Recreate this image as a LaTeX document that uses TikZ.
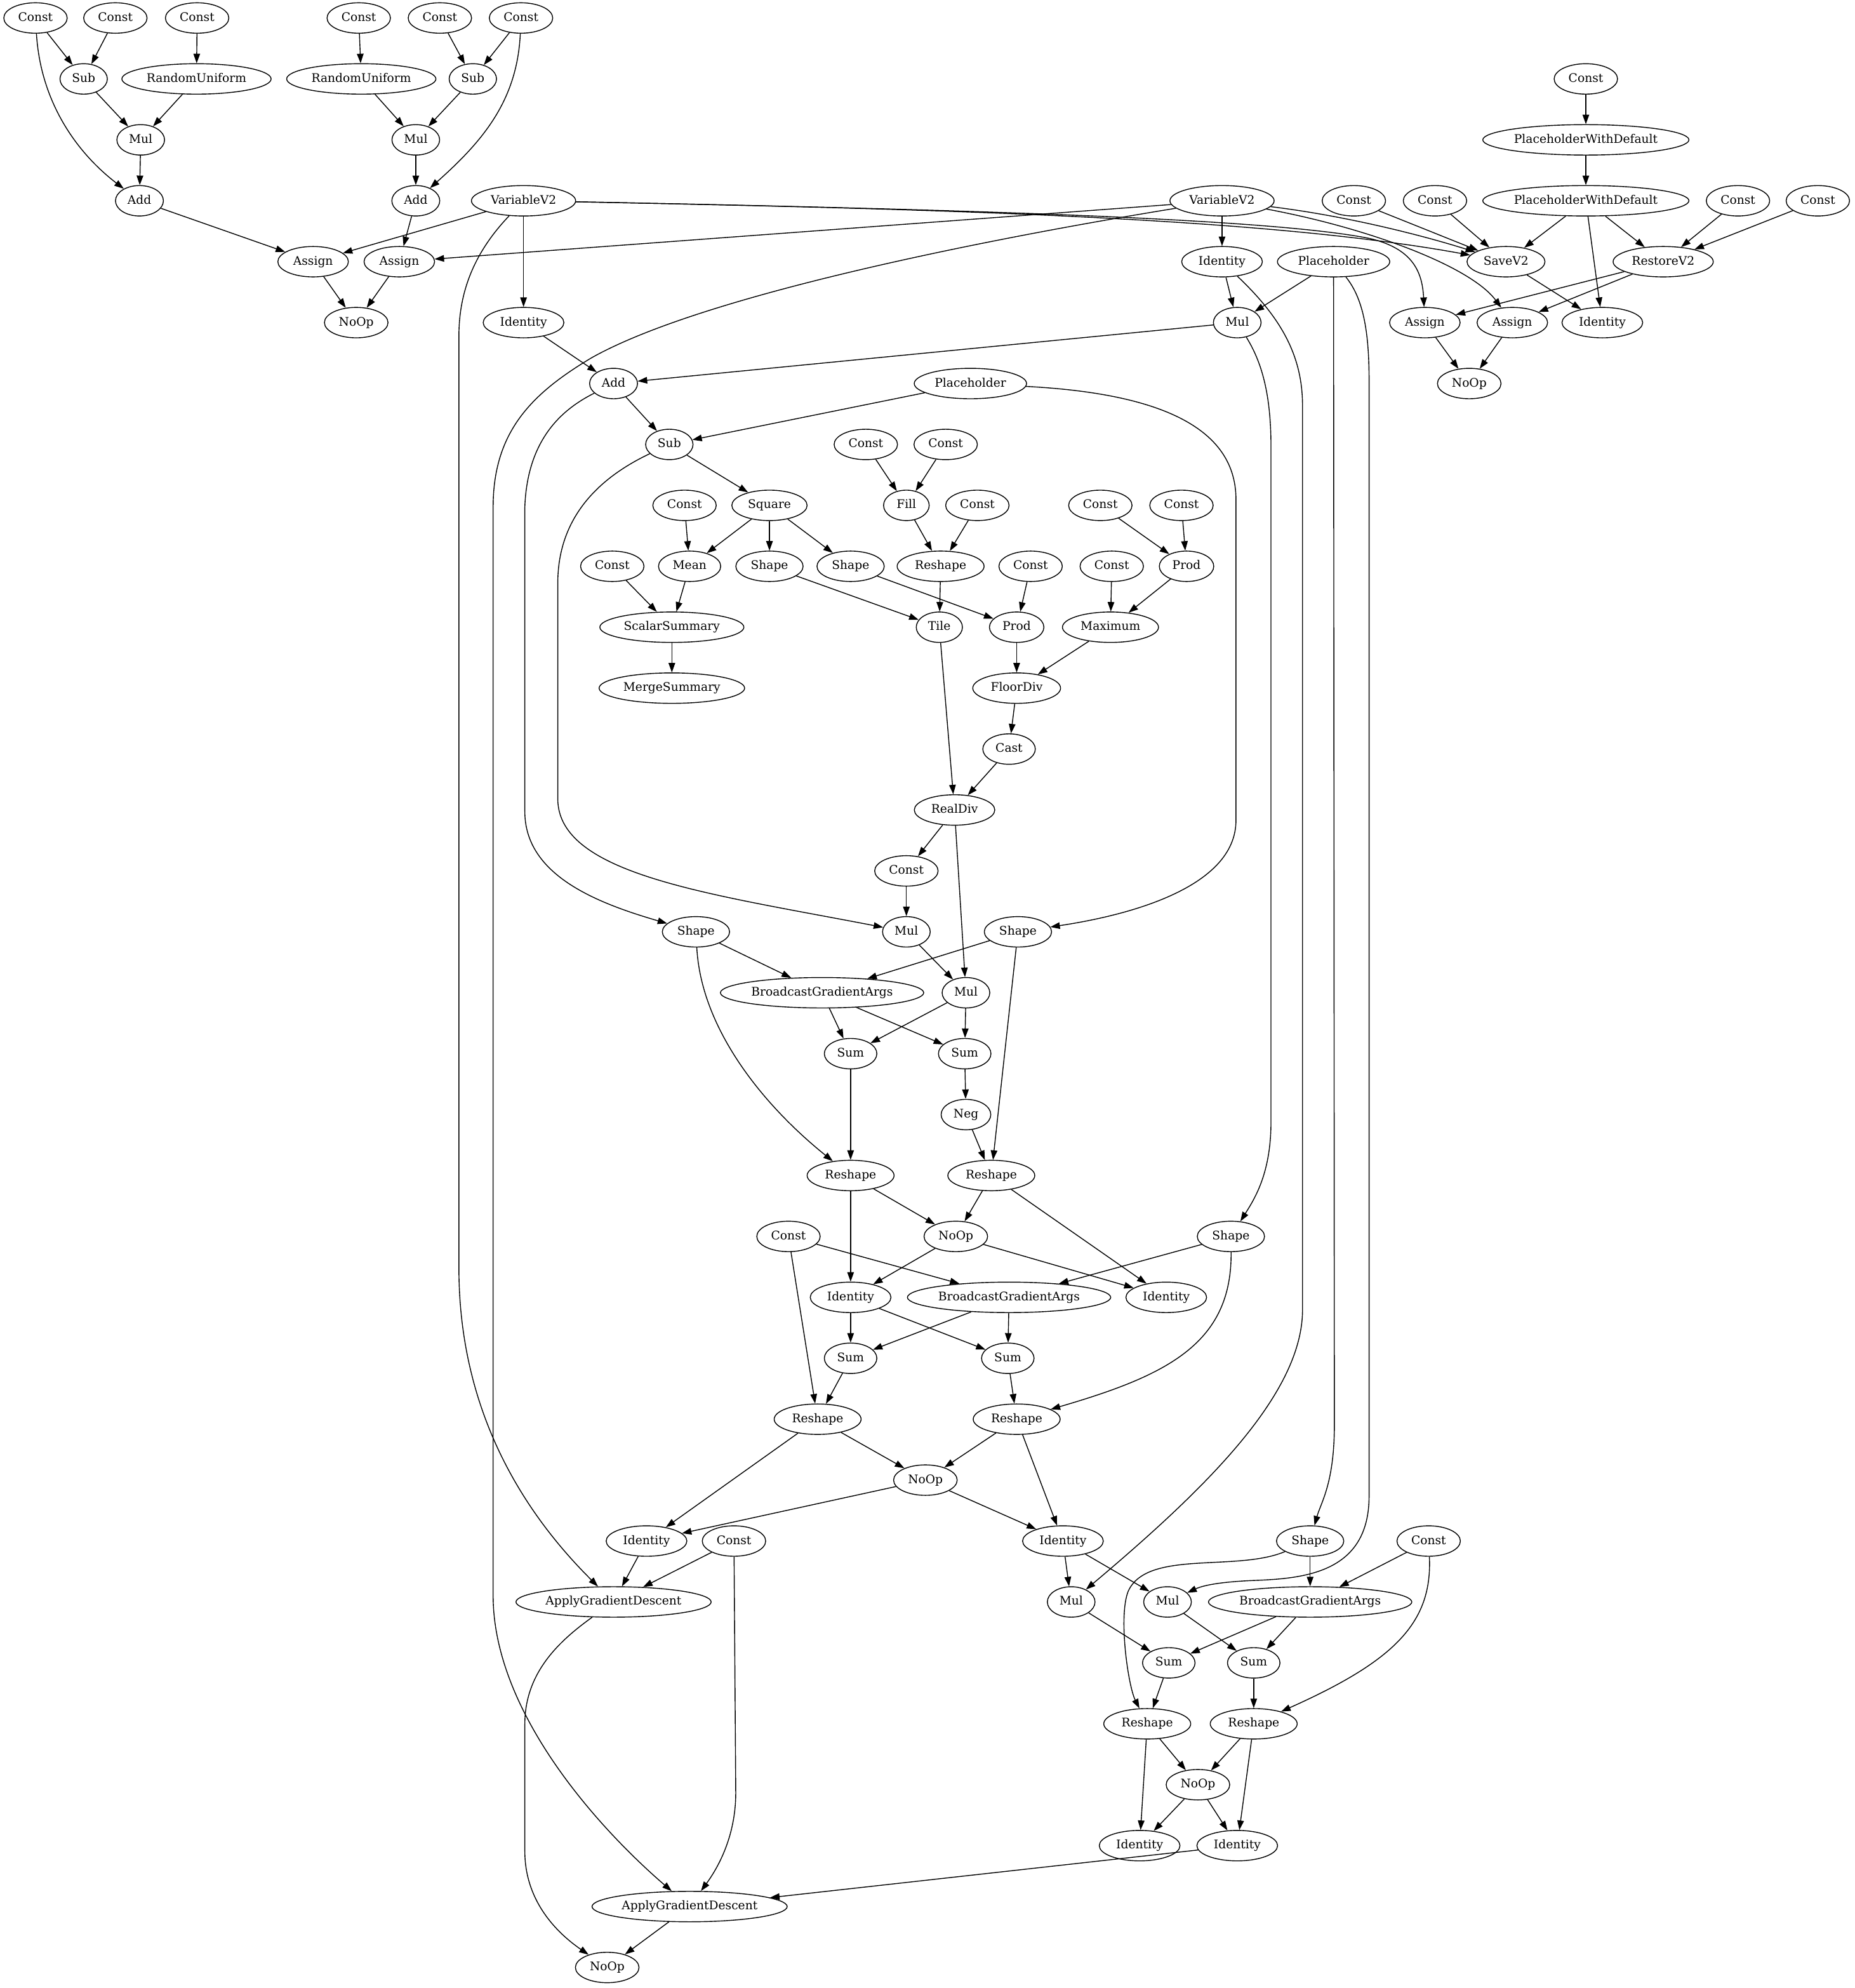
\documentclass[tikz,border=0pt]{standalone}
\usepackage{fontspec}
\setmainfont{DejaVu Serif}
\usetikzlibrary{shapes.geometric,arrows.meta}
\begin{document}
\begin{tikzpicture}[x=1pt,y=-1pt,
  nd/.style={draw, ellipse, line width=0.7pt, inner xsep=4pt, inner ysep=1pt,
    minimum width=36pt, minimum height=24pt, text height=7pt, text depth=2pt,
    font=\fontsize{9.35}{11}\selectfont},
  med/.style={nd, inner xsep=3.2pt},
  lng/.style={nd, inner xsep=2.3pt},
  xl/.style={nd, inner xsep=0.85pt},
  ed/.style={-{Triangle[length=7.5pt,width=5.2pt]}, line width=0.7pt}]
\useasboundingbox (0,0) rectangle (1463,1568);

% ---- top left: initialisers
\node[nd] (c1) at (28,14.2) {Const};
\node[nd] (c2) at (91,14.2) {Const};
\node[nd] (c3) at (155.5,14.2) {Const};
\node[nd] (sub1) at (66,62.25) {Sub};
\node[lng] (ru1) at (155,62.25) {RandomUniform};
\node[nd] (mul1) at (111,110.3) {Mul};
\node[nd] (add1) at (110,158.35) {Add};
\node[nd] (c4) at (283,14.2) {Const};
\node[nd] (c5) at (347,14.2) {Const};
\node[nd] (c6) at (411,14.2) {Const};
\node[lng] (ru2) at (285,62.25) {RandomUniform};
\node[nd] (sub2) at (373,62.25) {Sub};
\node[nd] (mul2) at (328,110.3) {Mul};
\node[nd] (add2) at (328,158.35) {Add};
\node[nd] (asg1) at (247,206.4) {Assign};
\node[nd] (asg2) at (315,206.4) {Assign};
\node[nd] (noop1) at (281,254.45) {NoOp};

% ---- variables and model
\node[med] (var1) at (413,158.35) {VariableV2};
\node[med] (var2) at (964,158.35) {VariableV2};
\node[nd] (id1) at (413,254.45) {Identity};
\node[nd] (id2) at (964,206.4) {Identity};
\node[med] (ph1) at (1052,206.4) {Placeholder};
\node[nd] (mulA) at (976,254.45) {Mul};
\node[nd] (addA) at (484,302.5) {Add};
\node[med] (ph2) at (765.5,302.5) {Placeholder};
\node[nd] (subA) at (528,350.55) {Sub};

% ---- save / restore
\node[nd] (cs) at (1251,62.25) {Const};
\node[xl] (pwd1) at (1251,110.3) {PlaceholderWithDefault};
\node[xl] (pwd2) at (1251,158.35) {PlaceholderWithDefault};
\node[nd] (cs1) at (1068,158.35) {Const};
\node[nd] (cs2) at (1132,158.35) {Const};
\node[nd] (cs3) at (1371,158.35) {Const};
\node[nd] (cs4) at (1434,158.35) {Const};
\node[nd] (save) at (1188,206.4) {SaveV2};
\node[med] (restore) at (1312,206.4) {RestoreV2};
\node[nd] (asg3) at (1124,254.45) {Assign};
\node[nd] (asg4) at (1193,254.45) {Assign};
\node[nd] (idS) at (1264,254.45) {Identity};
\node[nd] (noop2) at (1159,302.5) {NoOp};

% ---- loss and gradients
\node[nd] (k1) at (683,350.55) {Const};
\node[nd] (k2) at (746,350.55) {Const};
\node[nd] (k3) at (540,398.6) {Const};
\node[nd] (sq) at (607,398.6) {Square};
\node[nd] (fill) at (715,398.6) {Fill};
\node[nd] (k4) at (771,398.6) {Const};
\node[nd] (k5) at (868,398.6) {Const};
\node[nd] (k6) at (932,398.6) {Const};
\node[nd] (k7) at (483,446.65) {Const};
\node[nd] (mean) at (544,446.65) {Mean};
\node[nd] (shp1) at (607,446.65) {Shape};
\node[nd] (shp2) at (671,446.65) {Shape};
\node[nd] (rsh1) at (742,446.65) {Reshape};
\node[nd] (k8) at (813,446.65) {Const};
\node[nd] (k9) at (877,446.65) {Const};
\node[nd] (prod1) at (936,446.65) {Prod};
\node[lng] (ss) at (530,494.7) {ScalarSummary};
\node[nd] (tile) at (741,494.7) {Tile};
\node[nd] (prod2) at (802,494.7) {Prod};
\node[med] (maxi) at (876,494.7) {Maximum};
\node[lng] (ms) at (530,542.75) {MergeSummary};
\node[nd] (fdiv) at (802,542.75) {FloorDiv};
\node[nd] (cast) at (796,590.8) {Cast};
\node[nd] (rdiv) at (753,638.85) {RealDiv};
\node[nd] (k10) at (715,686.9) {Const};
\node[nd] (shp3) at (549,734.95) {Shape};
\node[nd] (mulB) at (715,734.95) {Mul};
\node[nd] (shp4) at (803,734.95) {Shape};
\node[xl] (bga1) at (648.5,783) {BroadcastGradientArgs};
\node[nd] (mulC) at (762,783) {Mul};
\node[nd] (sum1) at (671,831.05) {Sum};
\node[nd] (sum2) at (761,831.05) {Sum};
\node[nd] (neg) at (762,879.1) {Neg};
\node[nd] (rsh2) at (671,927.15) {Reshape};
\node[nd] (rsh3) at (782,927.15) {Reshape};
\node[nd] (k11) at (622,975.2) {Const};
\node[nd] (noop3) at (754,975.2) {NoOp};
\node[nd] (shp5) at (971,975.2) {Shape};
\node[nd] (id3) at (671,1023.25) {Identity};
\node[xl] (bga2) at (796,1023.25) {BroadcastGradientArgs};
\node[nd] (id4) at (920,1023.25) {Identity};
\node[nd] (sum3) at (671,1071.3) {Sum};
\node[nd] (sum4) at (795,1071.3) {Sum};
\node[nd] (rsh4) at (645,1119.35) {Reshape};
\node[nd] (rsh5) at (802,1119.35) {Reshape};
\node[nd] (noop4) at (730,1167.4) {NoOp};
\node[nd] (id5) at (510,1215.45) {Identity};
\node[nd] (k12) at (579,1215.45) {Const};
\node[nd] (id6) at (838.5,1215.45) {Identity};
\node[nd] (shp6) at (1033.5,1215.45) {Shape};
\node[nd] (k13) at (1127,1215.45) {Const};
\node[xl] (agd1) at (484,1263.5) {ApplyGradientDescent};
\node[nd] (mulD) at (845,1263.5) {Mul};
\node[nd] (mulE) at (921,1263.5) {Mul};
\node[xl] (bga3) at (1033.5,1263.5) {BroadcastGradientArgs};
\node[nd] (sum5) at (922,1311.55) {Sum};
\node[nd] (sum6) at (989,1311.55) {Sum};
\node[nd] (rsh6) at (905,1359.6) {Reshape};
\node[nd] (rsh7) at (989,1359.6) {Reshape};
\node[nd] (noop5) at (945,1407.65) {NoOp};
\node[nd] (id7) at (899,1455.7) {Identity};
\node[nd] (id8) at (976,1455.7) {Identity};
\node[xl] (agd2) at (544,1503.75) {ApplyGradientDescent};
\node[nd] (noop6) at (479,1551.8) {NoOp};

% ---- straight connectors
\foreach \a/\b in {c1/sub1, c2/sub1, c3/ru1, sub1/mul1, ru1/mul1, mul1/add1, add1/asg1,
  c4/ru2, c5/sub2, c6/sub2, ru2/mul2, sub2/mul2, mul2/add2, add2/asg2,
  var1/asg1, var2/asg2, asg1/noop1, asg2/noop1,
  var1/id1, id1/addA, var2/id2, id2/mulA, ph1/mulA, mulA/addA,
  cs/pwd1, pwd1/pwd2, pwd2/save, pwd2/restore, pwd2/idS, cs1/save, cs2/save,
  cs3/restore, cs4/restore, save/idS, restore/asg3, restore/asg4, asg3/noop2, asg4/noop2,
  addA/subA, ph2/subA, subA/sq,
  k1/fill, k2/fill, k3/mean, sq/mean, sq/shp1, sq/shp2, fill/rsh1, k4/rsh1,
  k5/prod1, k6/prod1, k7/ss, mean/ss, shp1/tile, shp2/prod2, rsh1/tile, k8/prod2,
  k9/maxi, prod1/maxi, ss/ms, prod2/fdiv, maxi/fdiv, fdiv/cast, cast/rdiv, tile/rdiv,
  rdiv/k10, rdiv/mulC, k10/mulB, mulB/mulC,
  shp3/bga1, shp4/bga1, shp4/rsh3, bga1/sum1, bga1/sum2, mulC/sum1, mulC/sum2,
  sum1/rsh2, sum2/neg, neg/rsh3,
  rsh2/noop3, rsh2/id3, rsh3/noop3, rsh3/id4, noop3/id3, noop3/id4,
  k11/bga2, k11/rsh4, shp5/bga2,
  id3/sum3, id3/sum4, bga2/sum3, bga2/sum4, sum3/rsh4, sum4/rsh5,
  rsh4/noop4, rsh4/id5, rsh5/noop4, rsh5/id6, noop4/id5, noop4/id6,
  id5/agd1, k12/agd1,
  id6/mulD, id6/mulE, shp6/bga3, k13/bga3, mulD/sum5, bga3/sum5, bga3/sum6, mulE/sum6,
  sum5/rsh6, sum6/rsh7,
  rsh6/noop5, rsh6/id7, rsh7/noop5, rsh7/id8, noop5/id7, noop5/id8,
  id8/agd2, agd2/noop6}
  \draw[ed] (\a) -- (\b);

% ---- curved connectors
\draw[ed] (c1) .. controls (32,80) and (60,120) .. (add1);
\draw[ed] (c6) .. controls (408,80) and (380,112) .. (add2);
\draw[ed] (var1) .. controls (750,165) and (1000,172) .. (1080,188)
  .. controls (1115,196) and (1122,215) .. (asg3);
\draw[ed] (var1) .. controls (750,165) and (1000,172) .. (save);
\draw[ed] (var2) .. controls (1060,170) and (1120,185) .. (save);
\draw[ed] (var2) .. controls (1080,180) and (1160,210) .. (asg4);
\draw[ed] (var1) .. controls (378,195) and (362,225) .. (362,265) -- (362,1000)
  .. controls (362,1110) and (410,1190) .. (agd1);
\draw[ed] (var2) .. controls (800,185) and (560,230) .. (467,282)
  .. controls (420,310) and (389,340) .. (389,400) -- (389,1260)
  .. controls (390,1350) and (470,1440) .. (agd2);
\draw[ed] (id2) .. controls (1010,250) and (1027.5,280) .. (1027.5,320) -- (1027.5,1033)
  .. controls (1027.5,1100) and (950,1175) .. (mulD);
\draw[ed] (ph1) -- (1052.6,1124) .. controls (1052.6,1170) and (1042,1185) .. (shp6);
\draw[ed] (ph1) .. controls (1075,235) and (1080,260) .. (1080,300) -- (1080,1180)
  .. controls (1080,1240) and (1030,1245) .. (990,1246.5)
  .. controls (965,1247.5) and (950,1250) .. (mulE);
\draw[ed] (mulA) .. controls (995,285) and (1002.6,310) .. (1002.6,352) -- (1002.6,885)
  .. controls (1002.6,925) and (990,945) .. (shp5);
\draw[ed] (ph2) .. controls (910,310) and (975,335) .. (975,394) -- (975,647)
  .. controls (975,700) and (890,722) .. (shp4);
\draw[ed] (addA) .. controls (445,322) and (416,345) .. (414,400) -- (414,640)
  .. controls (414,690) and (470,712) .. (shp3);
\draw[ed] (subA) .. controls (470,378) and (440,410) .. (440,460) -- (440,630)
  .. controls (440,690) and (560,705) .. (mulB);
\draw[ed] (shp3) .. controls (553,810) and (600,870) .. (rsh2);
\draw[ed] (shp5) .. controls (972,1060) and (920,1085) .. (rsh5);
\draw[ed] (k13) .. controls (1130,1280) and (1100,1310) .. (rsh7);
\draw[ed] (shp6) .. controls (975,1240) and (905,1222) .. (890,1255)
  .. controls (882,1275) and (890,1330) .. (rsh6);
\draw[ed] (agd1) .. controls (440,1295) and (414,1320) .. (414,1360) -- (414,1460)
  .. controls (414,1500) and (440,1525) .. (noop6);
\draw[ed] (k12) -- (580.4,1414) .. controls (580.4,1450) and (565,1475) .. (agd2);
\end{tikzpicture}
\end{document}
